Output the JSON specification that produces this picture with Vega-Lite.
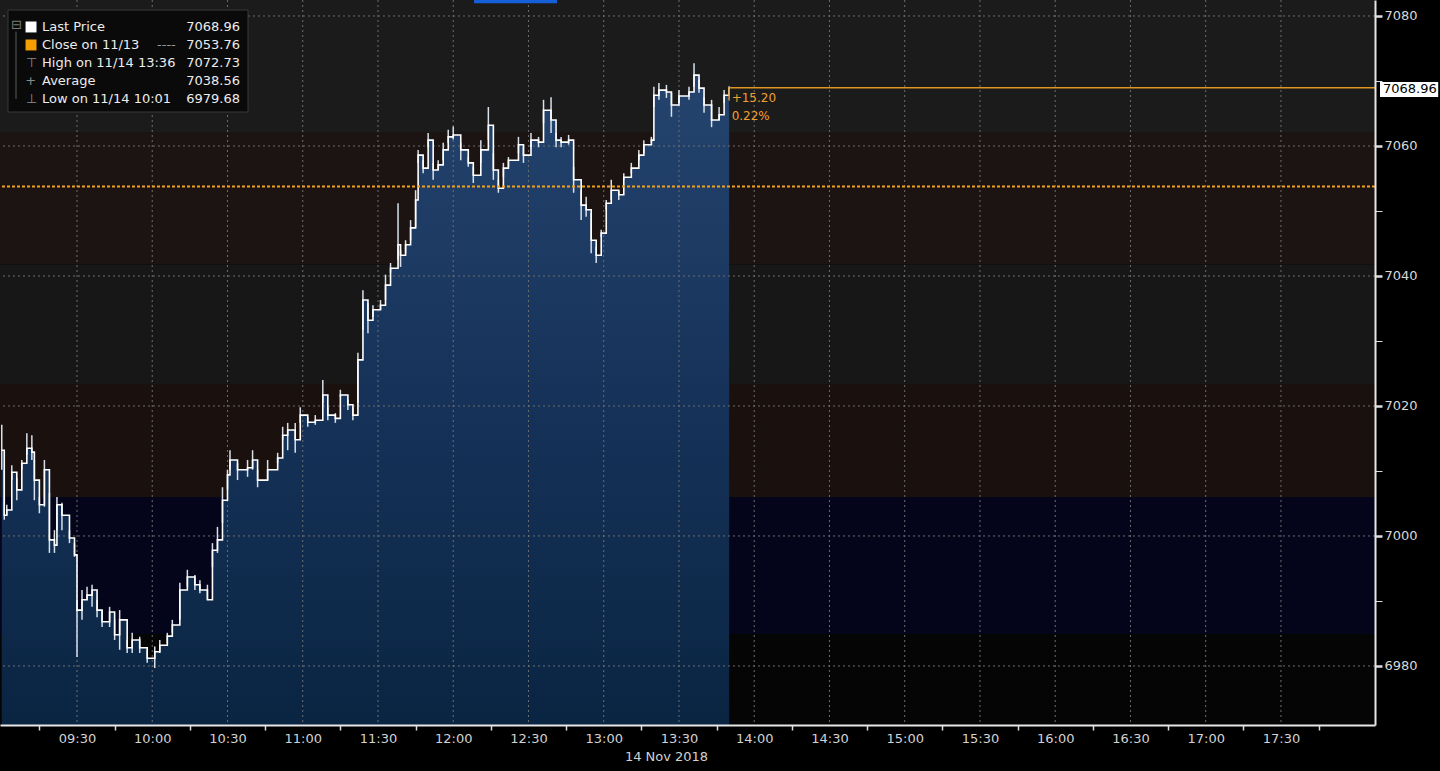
{
  "$schema": "https://vega.github.io/schema/vega-lite/v6.json",
  "width": 1375,
  "height": 725,
  "autosize": {"type": "none"},
  "padding": {"left": 0, "top": 0, "right": 65, "bottom": 46},
  "background": "#000000",
  "config": {"font": "DejaVu Sans", "view": {"stroke": null}},
  "data": {"values": [{}]},
  "datasets": {
    "bands": [
      {"y1": 7062.15, "y2": 7082.46, "c": "#1b1b1b"},
      {"y1": 7041.77, "y2": 7062.15, "c": "#1c1412"},
      {"y1": 7023.38, "y2": 7041.77, "c": "#171717"},
      {"y1": 7006.0, "y2": 7023.38, "c": "#1a100e"},
      {"y1": 6984.92, "y2": 7006.0, "c": "#04041b"},
      {"y1": 6970.92, "y2": 6984.92, "c": "#050505"}
    ],
    "px": [
      {"t": "2018-11-14T09:00", "c": 7013.2, "h": 7017.1, "l": 7010.2},
      {"t": "2018-11-14T09:01", "c": 7003.2, "h": 7010.2, "l": 7002.5},
      {"t": "2018-11-14T09:02", "c": 7004.0, "h": 7004.8, "l": 7003.2},
      {"t": "2018-11-14T09:04", "c": 7009.8, "h": 7010.9, "l": 7008.6},
      {"t": "2018-11-14T09:06", "c": 7007.1, "h": 7008.9, "l": 7005.5},
      {"t": "2018-11-14T09:08", "c": 7011.2, "h": 7011.7, "l": 7010.2},
      {"t": "2018-11-14T09:10", "c": 7013.5, "h": 7015.8, "l": 7012.5},
      {"t": "2018-11-14T09:12", "c": 7012.9, "h": 7015.5, "l": 7011.7},
      {"t": "2018-11-14T09:13", "c": 7008.6, "h": 7011.7, "l": 7005.5},
      {"t": "2018-11-14T09:15", "c": 7004.8, "h": 7006.0, "l": 7003.5},
      {"t": "2018-11-14T09:17", "c": 7010.2, "h": 7011.7, "l": 7004.5},
      {"t": "2018-11-14T09:19", "c": 6999.4, "h": 7006.6, "l": 6997.4},
      {"t": "2018-11-14T09:21", "c": 6998.6, "h": 7000.9, "l": 6997.4},
      {"t": "2018-11-14T09:22", "c": 7004.8, "h": 7006.0, "l": 7000.9},
      {"t": "2018-11-14T09:24", "c": 7003.2, "h": 7005.1, "l": 7000.9},
      {"t": "2018-11-14T09:27", "c": 6999.7, "h": 7000.9, "l": 6998.9},
      {"t": "2018-11-14T09:29", "c": 6997.1, "h": 6998.9, "l": 6996.8},
      {"t": "2018-11-14T09:30", "c": 6988.6, "h": 6990.1, "l": 6981.4},
      {"t": "2018-11-14T09:32", "c": 6990.2, "h": 6991.7, "l": 6987.1},
      {"t": "2018-11-14T09:34", "c": 6990.9, "h": 6992.2, "l": 6990.2},
      {"t": "2018-11-14T09:36", "c": 6991.7, "h": 6992.5, "l": 6989.1},
      {"t": "2018-11-14T09:38", "c": 6988.6, "h": 6990.2, "l": 6987.5},
      {"t": "2018-11-14T09:40", "c": 6986.8, "h": 6988.6, "l": 6986.0},
      {"t": "2018-11-14T09:43", "c": 6988.3, "h": 6989.1, "l": 6986.0},
      {"t": "2018-11-14T09:45", "c": 6984.8, "h": 6987.1, "l": 6984.0},
      {"t": "2018-11-14T09:47", "c": 6987.1, "h": 6988.6, "l": 6982.5},
      {"t": "2018-11-14T09:50", "c": 6982.8, "h": 6984.0, "l": 6982.0},
      {"t": "2018-11-14T09:52", "c": 6984.0, "h": 6985.1, "l": 6982.0},
      {"t": "2018-11-14T09:55", "c": 6982.8, "h": 6984.5, "l": 6982.0},
      {"t": "2018-11-14T09:58", "c": 6981.2, "h": 6982.5, "l": 6980.5},
      {"t": "2018-11-14T10:01", "c": 6982.2, "h": 6983.0, "l": 6979.68},
      {"t": "2018-11-14T10:03", "c": 6983.2, "h": 6984.0, "l": 6982.0},
      {"t": "2018-11-14T10:06", "c": 6984.6, "h": 6985.1, "l": 6983.5},
      {"t": "2018-11-14T10:08", "c": 6986.3, "h": 6987.1, "l": 6985.1},
      {"t": "2018-11-14T10:11", "c": 6991.7, "h": 6992.8, "l": 6987.1},
      {"t": "2018-11-14T10:14", "c": 6993.7, "h": 6994.8, "l": 6992.2},
      {"t": "2018-11-14T10:17", "c": 6992.5, "h": 6994.0, "l": 6991.7},
      {"t": "2018-11-14T10:19", "c": 6991.7, "h": 6993.2, "l": 6991.2},
      {"t": "2018-11-14T10:22", "c": 6990.2, "h": 6992.5, "l": 6990.2},
      {"t": "2018-11-14T10:24", "c": 6997.8, "h": 6998.9, "l": 6995.2},
      {"t": "2018-11-14T10:26", "c": 6999.4, "h": 7001.4, "l": 6997.4},
      {"t": "2018-11-14T10:28", "c": 7005.5, "h": 7007.5, "l": 7002.0},
      {"t": "2018-11-14T10:30", "c": 7009.4, "h": 7010.2, "l": 7007.1},
      {"t": "2018-11-14T10:31", "c": 7011.7, "h": 7013.2, "l": 7010.2},
      {"t": "2018-11-14T10:34", "c": 7010.2, "h": 7011.2, "l": 7008.6},
      {"t": "2018-11-14T10:38", "c": 7010.5, "h": 7011.7, "l": 7009.1},
      {"t": "2018-11-14T10:40", "c": 7011.7, "h": 7013.2, "l": 7010.2},
      {"t": "2018-11-14T10:42", "c": 7008.6, "h": 7010.2, "l": 7007.5},
      {"t": "2018-11-14T10:46", "c": 7010.2, "h": 7011.7, "l": 7008.6},
      {"t": "2018-11-14T10:50", "c": 7012.0, "h": 7012.8, "l": 7011.2},
      {"t": "2018-11-14T10:52", "c": 7015.5, "h": 7016.8, "l": 7014.8},
      {"t": "2018-11-14T10:54", "c": 7016.3, "h": 7017.4, "l": 7013.2},
      {"t": "2018-11-14T10:57", "c": 7014.8, "h": 7017.4, "l": 7012.8},
      {"t": "2018-11-14T10:59", "c": 7018.6, "h": 7019.8, "l": 7017.4},
      {"t": "2018-11-14T11:02", "c": 7017.5, "h": 7018.3, "l": 7016.8},
      {"t": "2018-11-14T11:05", "c": 7017.8, "h": 7018.6, "l": 7017.1},
      {"t": "2018-11-14T11:08", "c": 7021.7, "h": 7024.0, "l": 7020.5},
      {"t": "2018-11-14T11:10", "c": 7018.6, "h": 7019.8, "l": 7017.8},
      {"t": "2018-11-14T11:13", "c": 7018.1, "h": 7018.9, "l": 7017.4},
      {"t": "2018-11-14T11:15", "c": 7021.7, "h": 7022.5, "l": 7021.4},
      {"t": "2018-11-14T11:18", "c": 7020.2, "h": 7021.0, "l": 7019.4},
      {"t": "2018-11-14T11:20", "c": 7018.6, "h": 7019.8, "l": 7017.8},
      {"t": "2018-11-14T11:22", "c": 7027.1, "h": 7028.2, "l": 7020.5},
      {"t": "2018-11-14T11:24", "c": 7036.3, "h": 7037.8, "l": 7031.7},
      {"t": "2018-11-14T11:26", "c": 7033.2, "h": 7035.8, "l": 7031.2},
      {"t": "2018-11-14T11:28", "c": 7034.8, "h": 7035.5, "l": 7033.7},
      {"t": "2018-11-14T11:31", "c": 7035.5, "h": 7036.3, "l": 7034.8},
      {"t": "2018-11-14T11:33", "c": 7038.6, "h": 7040.2, "l": 7036.3},
      {"t": "2018-11-14T11:35", "c": 7041.2, "h": 7042.0, "l": 7040.5},
      {"t": "2018-11-14T11:38", "c": 7044.8, "h": 7051.2, "l": 7042.5},
      {"t": "2018-11-14T11:39", "c": 7043.2, "h": 7044.0, "l": 7041.4},
      {"t": "2018-11-14T11:41", "c": 7044.8, "h": 7045.5, "l": 7043.5},
      {"t": "2018-11-14T11:43", "c": 7047.4, "h": 7048.6, "l": 7045.5},
      {"t": "2018-11-14T11:45", "c": 7051.7, "h": 7053.2, "l": 7047.5},
      {"t": "2018-11-14T11:46", "c": 7058.6, "h": 7059.4, "l": 7057.4},
      {"t": "2018-11-14T11:48", "c": 7056.6, "h": 7057.8, "l": 7055.8},
      {"t": "2018-11-14T11:50", "c": 7060.9, "h": 7062.0, "l": 7059.8},
      {"t": "2018-11-14T11:52", "c": 7056.3, "h": 7057.4, "l": 7054.8},
      {"t": "2018-11-14T11:54", "c": 7057.1, "h": 7057.8, "l": 7056.3},
      {"t": "2018-11-14T11:56", "c": 7059.4, "h": 7060.5, "l": 7057.8},
      {"t": "2018-11-14T11:58", "c": 7061.4, "h": 7062.5, "l": 7060.5},
      {"t": "2018-11-14T12:00", "c": 7061.7, "h": 7063.0, "l": 7061.0},
      {"t": "2018-11-14T12:03", "c": 7059.4, "h": 7060.5, "l": 7057.8},
      {"t": "2018-11-14T12:06", "c": 7057.4, "h": 7058.3, "l": 7056.8},
      {"t": "2018-11-14T12:08", "c": 7055.5, "h": 7056.8, "l": 7054.3},
      {"t": "2018-11-14T12:11", "c": 7059.4, "h": 7060.9, "l": 7057.4},
      {"t": "2018-11-14T12:14", "c": 7063.2, "h": 7066.0, "l": 7060.9},
      {"t": "2018-11-14T12:16", "c": 7056.3, "h": 7058.9, "l": 7054.8},
      {"t": "2018-11-14T12:18", "c": 7053.5, "h": 7054.8, "l": 7052.8},
      {"t": "2018-11-14T12:20", "c": 7056.6, "h": 7057.4, "l": 7055.2},
      {"t": "2018-11-14T12:22", "c": 7057.8, "h": 7058.3, "l": 7056.8},
      {"t": "2018-11-14T12:26", "c": 7060.2, "h": 7061.4, "l": 7058.9},
      {"t": "2018-11-14T12:28", "c": 7058.6, "h": 7059.8, "l": 7057.4},
      {"t": "2018-11-14T12:31", "c": 7060.9, "h": 7062.0, "l": 7059.8},
      {"t": "2018-11-14T12:34", "c": 7060.6, "h": 7061.4, "l": 7059.8},
      {"t": "2018-11-14T12:36", "c": 7065.5, "h": 7067.1, "l": 7063.5},
      {"t": "2018-11-14T12:39", "c": 7064.0, "h": 7067.5, "l": 7062.0},
      {"t": "2018-11-14T12:41", "c": 7060.9, "h": 7062.0, "l": 7059.8},
      {"t": "2018-11-14T12:43", "c": 7060.6, "h": 7061.4, "l": 7059.8},
      {"t": "2018-11-14T12:46", "c": 7060.9, "h": 7061.7, "l": 7060.2},
      {"t": "2018-11-14T12:48", "c": 7054.8, "h": 7056.8, "l": 7052.8},
      {"t": "2018-11-14T12:51", "c": 7050.9, "h": 7053.2, "l": 7048.6},
      {"t": "2018-11-14T12:53", "c": 7050.2, "h": 7052.2, "l": 7049.1},
      {"t": "2018-11-14T12:55", "c": 7045.5, "h": 7049.7, "l": 7043.5},
      {"t": "2018-11-14T12:57", "c": 7043.2, "h": 7044.5, "l": 7042.0},
      {"t": "2018-11-14T12:59", "c": 7046.6, "h": 7047.1, "l": 7046.0},
      {"t": "2018-11-14T13:01", "c": 7051.2, "h": 7051.7, "l": 7050.2},
      {"t": "2018-11-14T13:03", "c": 7053.2, "h": 7054.8, "l": 7051.7},
      {"t": "2018-11-14T13:06", "c": 7052.5, "h": 7053.2, "l": 7051.7},
      {"t": "2018-11-14T13:08", "c": 7055.2, "h": 7055.8, "l": 7054.8},
      {"t": "2018-11-14T13:11", "c": 7056.6, "h": 7057.4, "l": 7055.8},
      {"t": "2018-11-14T13:14", "c": 7058.6, "h": 7059.4, "l": 7057.8},
      {"t": "2018-11-14T13:16", "c": 7060.2, "h": 7060.9, "l": 7058.9},
      {"t": "2018-11-14T13:19", "c": 7060.9, "h": 7061.4, "l": 7060.5},
      {"t": "2018-11-14T13:20", "c": 7067.8, "h": 7069.1, "l": 7066.0},
      {"t": "2018-11-14T13:22", "c": 7068.6, "h": 7069.7, "l": 7067.1},
      {"t": "2018-11-14T13:25", "c": 7068.3, "h": 7069.4, "l": 7067.4},
      {"t": "2018-11-14T13:27", "c": 7066.3, "h": 7068.2, "l": 7064.5},
      {"t": "2018-11-14T13:30", "c": 7067.7, "h": 7068.6, "l": 7066.6},
      {"t": "2018-11-14T13:34", "c": 7068.3, "h": 7069.1, "l": 7067.1},
      {"t": "2018-11-14T13:36", "c": 7070.9, "h": 7072.73, "l": 7069.1},
      {"t": "2018-11-14T13:38", "c": 7068.9, "h": 7070.2, "l": 7068.2},
      {"t": "2018-11-14T13:40", "c": 7066.3, "h": 7067.5, "l": 7065.1},
      {"t": "2018-11-14T13:43", "c": 7064.0, "h": 7067.1, "l": 7062.9},
      {"t": "2018-11-14T13:46", "c": 7064.8, "h": 7066.0, "l": 7064.0},
      {"t": "2018-11-14T13:48", "c": 7067.8, "h": 7068.6, "l": 7066.6},
      {"t": "2018-11-14T13:50", "c": 7068.96, "h": 7069.2, "l": 7068.0}
    ]
  },
  "layer": [
    {
      "data": {"name": "bands"},
      "mark": {"type": "rect"},
      "encoding": {
        "x": {
          "datum": {"year": 2018, "month": 11, "date": 14, "hours": 8, "minutes": 59, "seconds": 18},
          "type": "temporal",
          "scale": {
            "domain": [
              {"year": 2018, "month": 11, "date": 14, "hours": 8, "minutes": 59, "seconds": 18},
              {"year": 2018, "month": 11, "date": 14, "hours": 18, "minutes": 7, "seconds": 30}
            ],
            "nice": false
          },
          "axis": {
            "values": [
              {"year": 2018, "month": 11, "date": 14, "hours": 9, "minutes": 15},
              {"year": 2018, "month": 11, "date": 14, "hours": 9, "minutes": 30},
              {"year": 2018, "month": 11, "date": 14, "hours": 9, "minutes": 45},
              {"year": 2018, "month": 11, "date": 14, "hours": 10, "minutes": 0},
              {"year": 2018, "month": 11, "date": 14, "hours": 10, "minutes": 15},
              {"year": 2018, "month": 11, "date": 14, "hours": 10, "minutes": 30},
              {"year": 2018, "month": 11, "date": 14, "hours": 10, "minutes": 45},
              {"year": 2018, "month": 11, "date": 14, "hours": 11, "minutes": 0},
              {"year": 2018, "month": 11, "date": 14, "hours": 11, "minutes": 15},
              {"year": 2018, "month": 11, "date": 14, "hours": 11, "minutes": 30},
              {"year": 2018, "month": 11, "date": 14, "hours": 11, "minutes": 45},
              {"year": 2018, "month": 11, "date": 14, "hours": 12, "minutes": 0},
              {"year": 2018, "month": 11, "date": 14, "hours": 12, "minutes": 15},
              {"year": 2018, "month": 11, "date": 14, "hours": 12, "minutes": 30},
              {"year": 2018, "month": 11, "date": 14, "hours": 12, "minutes": 45},
              {"year": 2018, "month": 11, "date": 14, "hours": 13, "minutes": 0},
              {"year": 2018, "month": 11, "date": 14, "hours": 13, "minutes": 15},
              {"year": 2018, "month": 11, "date": 14, "hours": 13, "minutes": 30},
              {"year": 2018, "month": 11, "date": 14, "hours": 13, "minutes": 45},
              {"year": 2018, "month": 11, "date": 14, "hours": 14, "minutes": 0},
              {"year": 2018, "month": 11, "date": 14, "hours": 14, "minutes": 15},
              {"year": 2018, "month": 11, "date": 14, "hours": 14, "minutes": 30},
              {"year": 2018, "month": 11, "date": 14, "hours": 14, "minutes": 45},
              {"year": 2018, "month": 11, "date": 14, "hours": 15, "minutes": 0},
              {"year": 2018, "month": 11, "date": 14, "hours": 15, "minutes": 15},
              {"year": 2018, "month": 11, "date": 14, "hours": 15, "minutes": 30},
              {"year": 2018, "month": 11, "date": 14, "hours": 15, "minutes": 45},
              {"year": 2018, "month": 11, "date": 14, "hours": 16, "minutes": 0},
              {"year": 2018, "month": 11, "date": 14, "hours": 16, "minutes": 15},
              {"year": 2018, "month": 11, "date": 14, "hours": 16, "minutes": 30},
              {"year": 2018, "month": 11, "date": 14, "hours": 16, "minutes": 45},
              {"year": 2018, "month": 11, "date": 14, "hours": 17, "minutes": 0},
              {"year": 2018, "month": 11, "date": 14, "hours": 17, "minutes": 15},
              {"year": 2018, "month": 11, "date": 14, "hours": 17, "minutes": 30},
              {"year": 2018, "month": 11, "date": 14, "hours": 17, "minutes": 45}
            ],
            "labelExpr": "minutes(datum.value) % 30 == 0 ? timeFormat(datum.value, '%H:%M') : ''",
            "tickOpacity": {"condition": {"test": "minutes(datum.value) % 30 == 15", "value": 1}, "value": 0},
            "tickSize": 5,
            "tickWidth": 1.5,
            "tickColor": "#dddddd",
            "domainColor": "#e6e6e6",
            "domainWidth": 2,
            "grid": false,
            "labelColor": "#d2d2d2",
            "labelFontSize": 13,
            "labelPadding": 2,
            "labelOverlap": false,
            "labelFlush": false,
            "labelBound": false,
            "title": "14 Nov 2018",
            "titleColor": "#d2d2d2",
            "titleFontSize": 13,
            "titleFontWeight": "normal",
            "titleX": 666,
            "titleY": 31,
            "titleAlign": "center",
            "titleBaseline": "middle",
            "zindex": 1
          }
        },
        "x2": {"datum": {"year": 2018, "month": 11, "date": 14, "hours": 18, "minutes": 7, "seconds": 30}},
        "y": {
          "field": "y1",
          "type": "quantitative",
          "scale": {"domain": [6970.92, 7082.46], "nice": false, "zero": false},
          "axis": {
            "orient": "right",
            "values": [6980, 6990, 7000, 7010, 7020, 7030, 7040, 7050, 7060, 7070, 7080],
            "format": "d",
            "labelExpr": "datum.value % 20 == 0 ? datum.label : ''",
            "tickSize": 7,
            "tickWidth": {"condition": {"test": "datum.value % 20 == 0", "value": 2.5}, "value": 1},
            "tickColor": "#dddddd",
            "domainColor": "#e6e6e6",
            "domainWidth": 2,
            "grid": false,
            "labelColor": "#d8d8d8",
            "labelFontSize": 13,
            "labelPadding": 2,
            "title": "",
            "zindex": 1
          }
        },
        "y2": {"field": "y2"},
        "color": {"field": "c", "type": "nominal", "scale": null, "legend": null}
      }
    },
    {
      "data": {"name": "px"},
      "mark": {
        "type": "area",
        "interpolate": "step-after",
        "color": {
          "gradient": "linear",
          "x1": 0, "y1": 0, "x2": 0, "y2": 1,
          "stops": [
            {"offset": 0, "color": "#24446e"},
            {"offset": 0.5, "color": "#163259"},
            {"offset": 1, "color": "#0a2542"}
          ]
        }
      },
      "encoding": {
        "x": {"field": "t", "type": "temporal"},
        "y": {"field": "c", "type": "quantitative"},
        "y2": {"datum": 6970.92}
      }
    },
    {
      "data": {"values": [{"g": 6980}, {"g": 7000}, {"g": 7020}, {"g": 7040}, {"g": 7060}, {"g": 7080}]},
      "mark": {"type": "rule", "color": "#6e6e6e", "strokeDash": [2, 3], "strokeWidth": 1},
      "encoding": {"y": {"field": "g", "type": "quantitative"}}
    },
    {
      "data": {"values": [
        {"g": "2018-11-14T09:30"}, {"g": "2018-11-14T10:00"}, {"g": "2018-11-14T10:30"},
        {"g": "2018-11-14T11:00"}, {"g": "2018-11-14T11:30"}, {"g": "2018-11-14T12:00"},
        {"g": "2018-11-14T12:30"}, {"g": "2018-11-14T13:00"}, {"g": "2018-11-14T13:30"},
        {"g": "2018-11-14T14:00"}, {"g": "2018-11-14T14:30"}, {"g": "2018-11-14T15:00"},
        {"g": "2018-11-14T15:30"}, {"g": "2018-11-14T16:00"}, {"g": "2018-11-14T16:30"},
        {"g": "2018-11-14T17:00"}, {"g": "2018-11-14T17:30"}
      ]},
      "mark": {"type": "rule", "color": "#6e6e6e", "strokeDash": [2, 3], "strokeWidth": 1},
      "encoding": {"x": {"field": "g", "type": "temporal"}}
    },
    {
      "data": {"name": "px"},
      "mark": {"type": "rule", "color": "#d8e0ea", "strokeWidth": 1.5},
      "encoding": {
        "x": {"field": "t", "type": "temporal"},
        "y": {"field": "l", "type": "quantitative"},
        "y2": {"field": "h"}
      }
    },
    {
      "data": {"name": "px"},
      "mark": {"type": "line", "interpolate": "step-after", "color": "#ffffff", "strokeWidth": 1.6},
      "encoding": {
        "x": {"field": "t", "type": "temporal"},
        "y": {"field": "c", "type": "quantitative"}
      }
    },
    {
      "mark": {"type": "rule", "color": "#f0a020", "strokeWidth": 2, "strokeDash": [3, 2]},
      "encoding": {"y": {"datum": 7053.76, "type": "quantitative"}}
    },
    {
      "mark": {"type": "rule", "color": "#e0961e", "strokeWidth": 1.5},
      "encoding": {
        "x": {"datum": {"year": 2018, "month": 11, "date": 14, "hours": 13, "minutes": 50}, "type": "temporal"},
        "x2": {"datum": {"year": 2018, "month": 11, "date": 14, "hours": 18, "minutes": 7, "seconds": 30}},
        "y": {"datum": 7068.96, "type": "quantitative"}
      }
    },
    {
      "mark": {"type": "rule", "color": "#e0961e", "strokeWidth": 1.5},
      "encoding": {
        "x": {"datum": {"year": 2018, "month": 11, "date": 14, "hours": 13, "minutes": 50}, "type": "temporal"},
        "y": {"datum": 7068.96, "type": "quantitative"},
        "y2": {"datum": 7067.0}
      }
    },
    {
      "data": {"values": [
        {"t": "2018-11-14T13:51", "v": 7067.38, "txt": "+15.20"},
        {"t": "2018-11-14T13:51", "v": 7064.6, "txt": "0.22%"}
      ]},
      "mark": {"type": "text", "align": "left", "baseline": "middle", "fontSize": 12, "color": "#f0a030"},
      "encoding": {
        "x": {"field": "t", "type": "temporal"},
        "y": {"field": "v", "type": "quantitative"},
        "text": {"field": "txt"}
      }
    },
    {
      "mark": {"type": "rect", "color": "#0a0a0a", "stroke": "#3a3a3a", "strokeWidth": 1},
      "encoding": {
        "x": {"datum": {"year": 2018, "month": 11, "date": 14, "hours": 9, "minutes": 2, "seconds": 29}, "type": "temporal"},
        "x2": {"datum": {"year": 2018, "month": 11, "date": 14, "hours": 10, "minutes": 38, "seconds": 11}},
        "y": {"datum": 7080.92, "type": "quantitative"},
        "y2": {"datum": 7065.23}
      }
    },
    {
      "mark": {"type": "rule", "color": "#5a5a5a", "strokeWidth": 1},
      "encoding": {
        "x": {"datum": {"year": 2018, "month": 11, "date": 14, "hours": 9, "minutes": 5, "seconds": 41}, "type": "temporal"},
        "y": {"datum": 7077.6, "type": "quantitative"},
        "y2": {"datum": 7067.23}
      }
    },
    {
      "data": {"values": [
        {"t": "2018-11-14T09:11:40", "v": 7078.31, "c": "#ffffff"},
        {"t": "2018-11-14T09:11:40", "v": 7075.54, "c": "#f5a000"}
      ]},
      "mark": {"type": "point", "shape": "square", "filled": true, "size": 120, "opacity": 1},
      "encoding": {
        "x": {"field": "t", "type": "temporal"},
        "y": {"field": "v", "type": "quantitative"},
        "color": {"field": "c", "type": "nominal", "scale": null, "legend": null}
      }
    },
    {
      "data": {"values": [
        {"t": "2018-11-14T09:16:03", "v": 7078.31, "txt": "Last Price", "c": "#ececec"},
        {"t": "2018-11-14T09:16:03", "v": 7075.54, "txt": "Close on 11/13", "c": "#ececec"},
        {"t": "2018-11-14T09:16:03", "v": 7072.77, "txt": "High on 11/14 13:36", "c": "#ececec"},
        {"t": "2018-11-14T09:16:03", "v": 7070.0, "txt": "Average", "c": "#ececec"},
        {"t": "2018-11-14T09:16:03", "v": 7067.23, "txt": "Low on 11/14 10:01", "c": "#ececec"},
        {"t": "2018-11-14T10:01:54", "v": 7075.54, "txt": "----", "c": "#9a9a9a"},
        {"t": "2018-11-14T09:09:40", "v": 7072.77, "txt": "⊤", "c": "#8a8a8a"},
        {"t": "2018-11-14T09:09:20", "v": 7070.0, "txt": "+", "c": "#8a8a8a"},
        {"t": "2018-11-14T09:09:40", "v": 7067.23, "txt": "⊥", "c": "#8a8a8a"},
        {"t": "2018-11-14T09:03:40", "v": 7078.61, "txt": "⊟", "c": "#7a7a7a"}
      ]},
      "mark": {"type": "text", "align": "left", "baseline": "middle", "fontSize": 13},
      "encoding": {
        "x": {"field": "t", "type": "temporal"},
        "y": {"field": "v", "type": "quantitative"},
        "text": {"field": "txt"},
        "color": {"field": "c", "type": "nominal", "scale": null, "legend": null}
      }
    },
    {
      "data": {"values": [
        {"t": "2018-11-14T10:34:59", "v": 7078.31, "txt": "7068.96"},
        {"t": "2018-11-14T10:34:59", "v": 7075.54, "txt": "7053.76"},
        {"t": "2018-11-14T10:34:59", "v": 7072.77, "txt": "7072.73"},
        {"t": "2018-11-14T10:34:59", "v": 7070.0, "txt": "7038.56"},
        {"t": "2018-11-14T10:34:59", "v": 7067.23, "txt": "6979.68"}
      ]},
      "mark": {"type": "text", "align": "right", "baseline": "middle", "fontSize": 13, "color": "#ececec"},
      "encoding": {
        "x": {"field": "t", "type": "temporal"},
        "y": {"field": "v", "type": "quantitative"},
        "text": {"field": "txt"}
      }
    },
    {
      "mark": {"type": "rect", "color": "#ffffff"},
      "encoding": {
        "x": {"datum": {"year": 2018, "month": 11, "date": 14, "hours": 18, "minutes": 9, "seconds": 30}, "type": "temporal"},
        "x2": {"datum": {"year": 2018, "month": 11, "date": 14, "hours": 18, "minutes": 32, "seconds": 42}},
        "y": {"datum": 7069.85, "type": "quantitative"},
        "y2": {"datum": 7067.54}
      }
    },
    {
      "data": {"values": [{"t": "2018-11-14T18:10:42", "v": 7068.7, "txt": "7068.96"}]},
      "mark": {"type": "text", "align": "left", "baseline": "middle", "fontSize": 13, "color": "#000000"},
      "encoding": {
        "x": {"field": "t", "type": "temporal"},
        "y": {"field": "v", "type": "quantitative"},
        "text": {"field": "txt"}
      }
    },
    {
      "mark": {"type": "rect", "color": "#1560d8"},
      "encoding": {
        "x": {"datum": {"year": 2018, "month": 11, "date": 14, "hours": 12, "minutes": 8, "seconds": 18}, "type": "temporal"},
        "x2": {"datum": {"year": 2018, "month": 11, "date": 14, "hours": 12, "minutes": 41, "seconds": 24}},
        "y": {"datum": 7082.46, "type": "quantitative"},
        "y2": {"datum": 7081.95}
      }
    }
  ]
}
